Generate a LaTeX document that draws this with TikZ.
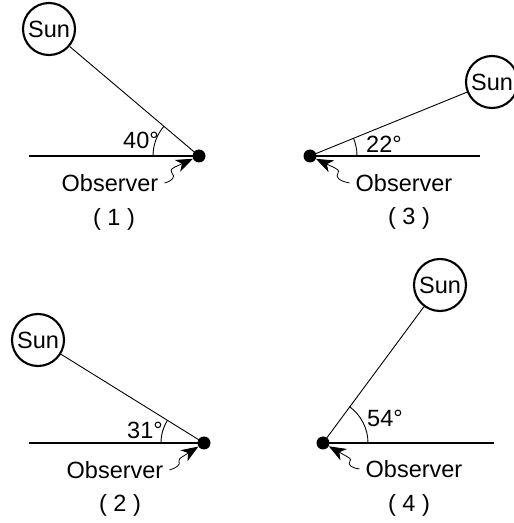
\documentclass[tikz,border=0pt]{standalone}
\usepackage{fontspec}
\setmainfont{Liberation Sans}
\usetikzlibrary{arrows.meta}
\begin{document}
\begin{tikzpicture}[x=1pt,y=1pt,
  sunnode/.style={circle,draw,line width=2.1pt,minimum size=52pt,inner sep=0pt,font=\fontsize{23.5}{27}\selectfont},
  obsdot/.style={circle,fill=black,minimum size=13pt,inner sep=0pt},
  ray/.style={line width=0.9pt},
  ground/.style={line width=1.2pt},
  anglearc/.style={line width=0.9pt},
  lbl/.style={font=\fontsize{23.5}{27}\selectfont,inner sep=0pt},
  pointer/.style={line width=0.8pt,-{Stealth[length=17pt,width=13pt,inset=5pt]}}]
\useasboundingbox (0,0) rectangle (514,523);
% Panel 1
\node[sunnode] (sun1) at (49,494) {Sun};
\node[obsdot] (obs1) at (199,367) {};
\coordinate (g1) at (29,367);
\draw[ground] (g1) -- (obs1.center);
\draw[ray] (sun1) -- (obs1.center);
\draw[anglearc] ([shift={(180:46)}]obs1.center) arc[start angle=180,end angle=140,radius=46];
\node[lbl] (a1) at (141,383) {40°};
\node[lbl] (o1) at (110,340) {Observer};
\node[lbl] (c1) at (114,304) {( 1 )};
\draw[pointer] ([xshift=6]o1.east) .. controls (172,342) and (176,346) .. (172,350) .. controls (169,354) and (174,355) .. (175,356) -- (obs1);
% Panel 3
\node[sunnode] (sun3) at (492,441) {Sun};
\node[obsdot] (obs3) at (310,367) {};
\coordinate (g3) at (480,367);
\draw[ground] (obs3.center) -- (g3);
\draw[ray] (sun3) -- (obs3.center);
\draw[anglearc] ([shift={(0:47)}]obs3.center) arc[start angle=0,end angle=22,radius=47];
\node[lbl] (a3) at (384,379) {22°};
\node[lbl] (o3) at (404,340) {Observer};
\node[lbl] (c3) at (409,305) {( 3 )};
\draw[pointer] ([xshift=-6]o3.west) .. controls (339,342) and (335,346) .. (338,350) .. controls (340,353) and (336,354) .. (335,355) -- (obs3);
% Panel 2
\node[sunnode] (sun2) at (38,183) {Sun};
\node[obsdot] (obs2) at (204,80) {};
\coordinate (g2) at (29,80);
\draw[ground] (g2) -- (obs2.center);
\draw[ray] (sun2) -- (obs2.center);
\draw[anglearc] ([shift={(180:43)}]obs2.center) arc[start angle=180,end angle=148,radius=43];
\node[lbl] (a2) at (145,93) {31°};
\node[lbl] (o2) at (115,53) {Observer};
\node[lbl] (c2) at (120,18) {( 2 )};
\draw[pointer] ([xshift=6]o2.east) .. controls (176,55) and (181,58) .. (179,62) .. controls (178,64) and (181,65) .. (182,66) -- (obs2);
% Panel 4
\node[sunnode] (sun4) at (440,238) {Sun};
\node[obsdot] (obs4) at (323,80) {};
\coordinate (g4) at (494,80);
\draw[ground] (obs4.center) -- (g4);
\draw[ray] (sun4) -- (obs4.center);
\draw[anglearc] ([shift={(0:45)}]obs4.center) arc[start angle=0,end angle=54,radius=45];
\node[lbl] (a4) at (385,105) {54°};
\node[lbl] (o4) at (414,54) {Observer};
\node[lbl] (c4) at (409,18) {( 4 )};
\draw[pointer] ([xshift=-6]o4.west) .. controls (352,55) and (347,58) .. (350,62) .. controls (352,64) and (348,66) .. (346,67) -- (obs4);
\end{tikzpicture}
\end{document}
